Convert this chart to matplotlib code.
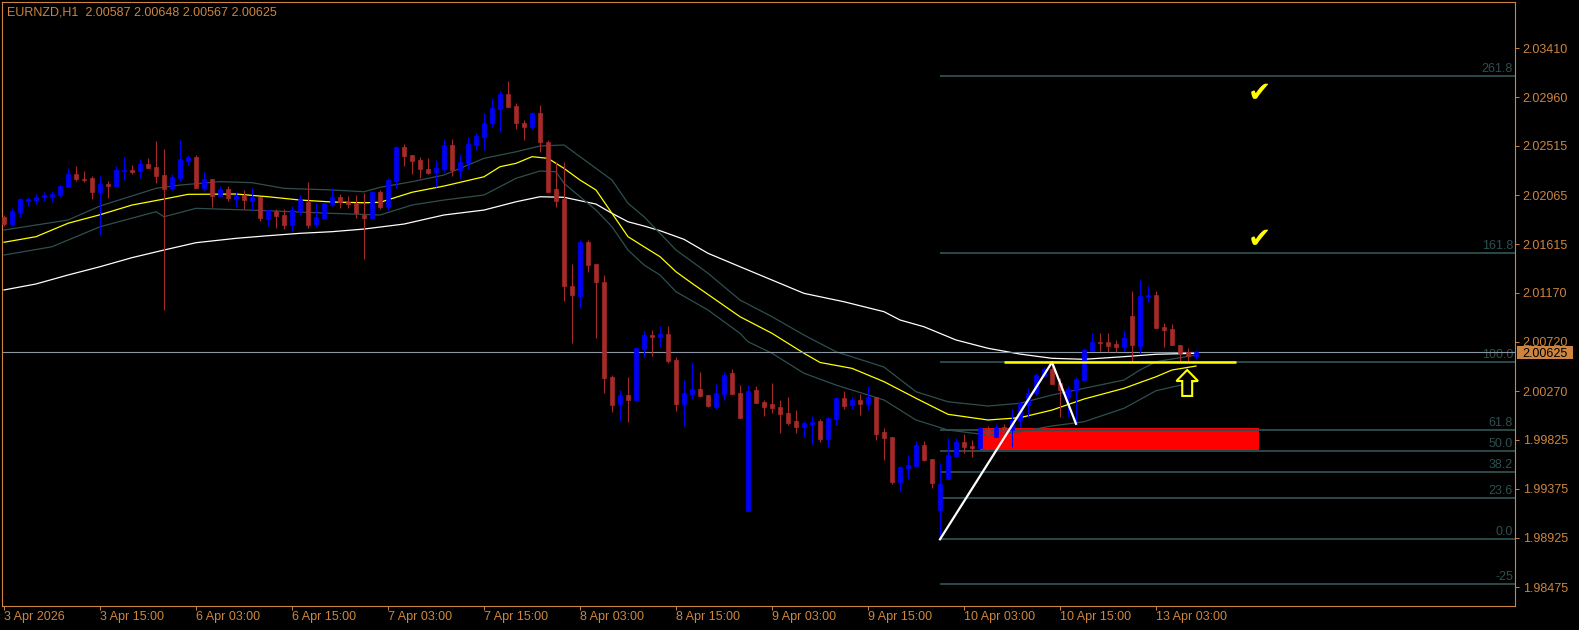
import numpy as np
import matplotlib
matplotlib.use("Agg")
import matplotlib.pyplot as plt
from matplotlib import patches, transforms

plt.rcParams['font.family'] = ['Liberation Sans', 'DejaVu Sans']

### Data: EURNZD H1, first bar 3 Apr 2026 03:00 ###
title = "EURNZD,H1  2.00587 2.00648 2.00567 2.00625"

opens = [
    2.01867, 2.01800, 2.01913, 2.02014, 2.02023, 2.02045, 2.02048, 2.02066, 2.02142, 2.02258,
    2.02212, 2.02222, 2.02096, 2.02167, 2.02151, 2.02288, 2.02295, 2.02286, 2.02350, 2.02320,
    2.02249, 2.02133, 2.02224, 2.02377, 2.02414, 2.02133, 2.02212, 2.02057, 2.02121, 2.02029,
    2.02066, 2.02011, 2.02048, 2.01846, 2.01922, 2.01883, 2.01791, 2.01919, 2.02004, 2.01803,
    2.01858, 2.01986, 2.02048, 2.02004, 2.01995, 2.01883, 2.01858, 2.02096, 2.01956, 2.02197,
    2.02503, 2.02432, 2.02386, 2.02304, 2.02279, 2.02304, 2.02521, 2.02295, 2.02356, 2.02521,
    2.02600, 2.02723, 2.02854, 2.02991, 2.02881, 2.02728, 2.02691, 2.02820, 2.02554, 2.02121,
    2.02026, 2.01232, 2.01143, 2.01638, 2.01434, 2.01272, 2.00396, 2.00154, 2.00234, 2.00188,
    2.00655, 2.00783, 2.00765, 2.00793, 2.00554, 2.00154, 2.00246, 2.00289, 2.00234, 2.00127,
    2.00246, 2.00433, 2.00252, 1.99171, 2.00280, 2.00170, 2.00154, 2.00124, 2.00069, 1.99996,
    1.99941, 1.99971, 1.99996, 1.99831, 2.00014, 2.00209, 2.00142, 2.00188, 2.00154, 2.00216,
    1.99895, 1.99849, 1.99440, 1.99568, 1.99586, 1.99776, 1.99648, 1.99180, 1.99464, 1.99678,
    1.99803, 1.99767, 1.99751, 1.99922, 1.99852, 1.99943, 1.99913, 2.00005, 2.00142, 2.00249,
    2.00411, 2.00469, 2.00341, 2.00213, 2.00280, 2.00371, 2.00640, 2.00719, 2.00719, 2.00698,
    2.00676, 2.00957, 2.00685, 2.01134, 2.01150, 2.00859, 2.00836, 2.00692, 2.00630, 2.00587,
]
highs = [
    2.01883, 2.01949, 2.02039, 2.02050, 2.02075, 2.02096, 2.02102, 2.02155, 2.02313, 2.02331,
    2.02286, 2.02240, 2.02240, 2.02194, 2.02331, 2.02411, 2.02341, 2.02396, 2.02402, 2.02560,
    2.02487, 2.02255, 2.02570, 2.02432, 2.02432, 2.02277, 2.02212, 2.02148, 2.02148, 2.02096,
    2.02112, 2.02130, 2.02050, 2.01928, 2.01938, 2.01938, 2.01965, 2.02069, 2.02188, 2.01993,
    2.01993, 2.02130, 2.02075, 2.02057, 2.02066, 2.02087, 2.02100, 2.02112, 2.02224, 2.02517,
    2.02533, 2.02432, 2.02411, 2.02402, 2.02386, 2.02576, 2.02576, 2.02439, 2.02600, 2.02631,
    2.02820, 2.02957, 2.03018, 2.03110, 2.02906, 2.02753, 2.02829, 2.02890, 2.02570, 2.02371,
    2.02371, 2.01434, 2.01654, 2.01654, 2.01434, 2.01333, 2.00417, 2.00280, 2.00396, 2.00670,
    2.00820, 2.00829, 2.00866, 2.00866, 2.00585, 2.00371, 2.00533, 2.00445, 2.00236, 2.00332,
    2.00447, 2.00472, 2.00325, 2.00325, 2.00316, 2.00188, 2.00347, 2.00188, 2.00216, 2.00096,
    1.99996, 2.00041, 2.00014, 2.00030, 2.00212, 2.00270, 2.00213, 2.00243, 2.00316, 2.00220,
    1.99929, 1.99852, 1.99586, 1.99684, 1.99815, 1.99815, 1.99650, 1.99614, 1.99837, 1.99843,
    1.99877, 1.99822, 1.99943, 1.99953, 1.99968, 1.99968, 2.00103, 2.00182, 2.00295, 2.00433,
    2.00493, 2.00534, 2.00387, 2.00319, 2.00401, 2.00662, 2.00799, 2.00799, 2.00799, 2.00738,
    2.00829, 2.01186, 2.01287, 2.01235, 2.01186, 2.00891, 2.00884, 2.00692, 2.00662, 2.00648,
]
lows = [
    2.01782, 2.01782, 2.01867, 2.01968, 2.01983, 2.02014, 2.02002, 2.02050, 2.02142, 2.02194,
    2.02188, 2.02029, 2.01699, 2.02041, 2.02151, 2.02206, 2.02258, 2.02224, 2.02313, 2.02179,
    2.01012, 2.02112, 2.02194, 2.02341, 2.02133, 2.02112, 2.01956, 2.02050, 2.02014, 2.01953,
    2.01938, 2.01928, 2.01830, 2.01785, 2.01766, 2.01757, 2.01739, 2.01883, 2.01766, 2.01773,
    2.01846, 2.01968, 2.01949, 2.01949, 2.01855, 2.01480, 2.01855, 2.01940, 2.01928, 2.02133,
    2.02331, 2.02255, 2.02224, 2.02255, 2.02142, 2.02279, 2.02240, 2.02224, 2.02301, 2.02478,
    2.02478, 2.02686, 2.02646, 2.02875, 2.02670, 2.02570, 2.02667, 2.02462, 2.02096, 2.01959,
    2.01098, 2.00707, 2.01028, 2.01363, 2.00759, 2.00255, 2.00081, 1.99996, 1.99989, 2.00182,
    2.00585, 2.00591, 2.00676, 2.00530, 2.00087, 1.99953, 2.00197, 2.00218, 2.00127, 2.00106,
    2.00188, 2.00243, 2.00026, 1.99171, 2.00163, 2.00044, 2.00072, 1.99889, 1.99959, 1.99889,
    1.99852, 1.99788, 1.99801, 1.99760, 1.99959, 2.00106, 2.00106, 2.00051, 2.00096, 1.99822,
    1.99638, 1.99416, 1.99357, 1.99462, 1.99583, 1.99629, 1.99382, 1.98912, 1.99460, 1.99669,
    1.99700, 1.99669, 1.99748, 1.99852, 1.99846, 1.99867, 1.99760, 1.99943, 2.00035, 2.00234,
    2.00401, 2.00335, 2.00035, 2.00035, 1.99970, 2.00368, 2.00638, 2.00637, 2.00630, 2.00630,
    2.00640, 2.00539, 2.00616, 2.01088, 2.00850, 2.00676, 2.00692, 2.00548, 2.00548, 2.00567,
]
closes = [
    2.01800, 2.01919, 2.02029, 2.02032, 2.02048, 2.02063, 2.02075, 2.02148, 2.02258, 2.02212,
    2.02203, 2.02096, 2.02167, 2.02151, 2.02295, 2.02295, 2.02277, 2.02350, 2.02313, 2.02240,
    2.02121, 2.02228, 2.02396, 2.02414, 2.02133, 2.02212, 2.02057, 2.02121, 2.02038, 2.02066,
    2.02023, 2.02048, 2.01858, 2.01928, 2.01876, 2.01791, 2.01928, 2.02029, 2.01791, 2.01864,
    2.01993, 2.02048, 2.02002, 2.01983, 2.01898, 2.01858, 2.02096, 2.01959, 2.02203, 2.02506,
    2.02426, 2.02380, 2.02304, 2.02270, 2.02316, 2.02521, 2.02295, 2.02365, 2.02533, 2.02606,
    2.02723, 2.02866, 2.02991, 2.02875, 2.02728, 2.02691, 2.02814, 2.02554, 2.02096, 2.02011,
    2.01232, 2.01150, 2.01638, 2.01425, 2.01272, 2.00392, 2.00142, 2.00234, 2.00188, 2.00667,
    2.00783, 2.00765, 2.00793, 2.00545, 2.00154, 2.00249, 2.00289, 2.00225, 2.00133, 2.00249,
    2.00417, 2.00243, 2.00026, 2.00270, 2.00163, 2.00124, 2.00118, 2.00060, 1.99977, 1.99941,
    1.99977, 1.99989, 1.99831, 2.00026, 2.00209, 2.00136, 2.00188, 2.00154, 2.00216, 1.99879,
    1.99843, 1.99434, 1.99574, 1.99593, 1.99776, 1.99638, 1.99431, 1.99419, 1.99684, 1.99806,
    1.99758, 1.99751, 1.99934, 1.99867, 1.99943, 1.99913, 2.00005, 2.00158, 2.00255, 2.00417,
    2.00469, 2.00335, 2.00280, 2.00289, 2.00378, 2.00646, 2.00719, 2.00707, 2.00683, 2.00674,
    2.00753, 2.00692, 2.01141, 2.01150, 2.00850, 2.00829, 2.00692, 2.00616, 2.00587, 2.00625,
]

# moving averages (bar index, price) read at sample bars
white_idx = [0, 4, 8, 12, 16, 20, 24, 29, 33, 37, 41, 45, 50, 55, 60, 64, 67, 70, 72, 74,
             76, 78, 80, 82, 85, 88, 92, 96, 100, 105, 110, 112, 115, 119, 123, 127, 131, 135, 140, 144, 149]
white_val = [2.01196, 2.01251, 2.01333, 2.01409, 2.01492, 2.01562, 2.01629, 2.01669, 2.01693, 2.01715,
             2.01730, 2.01754, 2.01800, 2.01883, 2.01928, 2.02004, 2.02050, 2.02045, 2.02014, 2.01983,
             2.01898, 2.01821, 2.01782, 2.01739, 2.01660, 2.01532, 2.01409, 2.01287, 2.01165, 2.01088,
             2.00997, 2.00921, 2.00859, 2.00738, 2.00662, 2.00609, 2.00570, 2.00561, 2.00585, 2.00607, 2.00616]

yellow_idx = [0, 4, 8, 12, 16, 20, 23, 29, 33, 37, 41, 45, 47, 51, 55, 60, 62, 64, 66, 68,
              70, 72, 74, 76, 78, 80, 82, 84, 86, 89, 92, 96, 100, 102, 106, 110, 114, 118, 123, 127,
              131, 135, 140, 144, 146, 149]
yellow_val = [2.01633, 2.01684, 2.01807, 2.01885, 2.01974, 2.02029, 2.02072, 2.02075, 2.02050, 2.02020,
              2.02002, 2.01995, 2.01999, 2.02091, 2.02148, 2.02233, 2.02325, 2.02356, 2.02417, 2.02402,
              2.02310, 2.02203, 2.02112, 2.01898, 2.01684, 2.01592, 2.01501, 2.01363, 2.01257, 2.01104,
              2.00951, 2.00799, 2.00616, 2.00532, 2.00478, 2.00356, 2.00204, 2.00057, 2.00005, 2.00026,
              2.00096, 2.00197, 2.00295, 2.00401, 2.00463, 2.00499]

upper_idx = [0, 8, 12, 19, 22, 27, 31, 35, 41, 45, 47, 51, 55, 60, 64, 67, 70, 72, 74, 76,
             78, 80, 82, 84, 88, 92, 96, 100, 104, 110, 114, 118, 123, 127, 131, 135, 140, 142, 144, 149]
upper_val = [2.01745, 2.01837, 2.01965, 2.02127, 2.02157, 2.02188, 2.02179, 2.02127, 2.02112, 2.02096,
             2.02136, 2.02188, 2.02249, 2.02402, 2.02462, 2.02515, 2.02524, 2.02417, 2.02310, 2.02203,
             2.01990, 2.01867, 2.01715, 2.01562, 2.01349, 2.01104, 2.00951, 2.00783, 2.00630, 2.00490,
             2.00264, 2.00172, 2.00133, 2.00158, 2.00234, 2.00295, 2.00371, 2.00463, 2.00539, 2.00600]

lower_idx = [0, 6, 12, 19, 20, 24, 33, 41, 47, 51, 55, 60, 62, 64, 67, 69, 70, 72, 74, 76,
             78, 80, 82, 84, 88, 92, 93, 96, 100, 104, 110, 114, 118, 123, 127, 131, 135, 140, 144, 149]
lower_val = [2.01516, 2.01592, 2.01775, 2.01913, 2.01867, 2.01944, 2.01922, 2.01898, 2.01883, 2.01974,
             2.02020, 2.02066, 2.02142, 2.02219, 2.02286, 2.02279, 2.02173, 2.02050, 2.01928, 2.01775,
             2.01562, 2.01425, 2.01333, 2.01180, 2.01012, 2.00799, 2.00722, 2.00616, 2.00433, 2.00325,
             2.00188, 2.00005, 1.99913, 1.99867, 1.99898, 1.99950, 1.99989, 2.00112, 2.00273, 2.00356]

time_ticks = [0, 12, 24, 36, 48, 60, 72, 84, 96, 108, 120, 132, 144]
time_labels = ["3 Apr 2026", "3 Apr 15:00", "6 Apr 03:00", "6 Apr 15:00", "7 Apr 03:00",
               "7 Apr 15:00", "8 Apr 03:00", "8 Apr 15:00", "9 Apr 03:00", "9 Apr 15:00",
               "10 Apr 03:00", "10 Apr 15:00", "13 Apr 03:00"]
price_ticks = [2.03410, 2.02960, 2.02515, 2.02065, 2.01615, 2.01170,
               2.00720, 2.00270, 1.99825, 1.99375, 1.98925, 1.98475]

# fibonacci from swing low bar to swing high bar
fib_low_bar = 117
fib_high_bar = 131
fib_levels = [261.8, 161.8, 100.0, 61.8, 50.0, 38.2, 23.6, 0.0, -25.0]
fib_texts = ["261.8", "161.8", "100.0", "61.8", "50.0", "38.2", "23.6", "0.0", "-25"]

# user objects
zone_start, zone_end = 122, 156.9
zone_low, zone_high = 1.99730, 1.99930
zigzag_bars = [117, 131, 134]
hline_start, hline_end = 125, 154
check_bar = 156.9
check_prices = [2.03003, 2.01666]
arrow_bar = 147.9
arrow_tip, arrow_neck, arrow_base = 2.00463, 2.00362, 2.00225

### Styles ###
BG = "black"
FG = "#CD853F"
BULL = "#0000FF"
BEAR = "#A52A2A"
FIB_COL = "#2F4F4F"
ENV_COL = "#2F4F4F"
PRICE_LINE = "#8A96A2"

W, H = 1579, 630
fig = plt.figure(figsize=(W / 100, H / 100), dpi=100, facecolor=BG)
ax = fig.add_axes([2 / W, 24 / H, 1513 / W, 604 / H], facecolor=BG)
ax.set_xlim(-0.25, 188.875)
ax.set_ylim(1.98301, 2.03834)

# background zone
ax.add_patch(patches.Rectangle((zone_start, zone_low), zone_end - zone_start, zone_high - zone_low,
                               facecolor="#FF0000", edgecolor="none", zorder=0.5))

# fibo levels
fib_lo = lows[fib_low_bar]
fib_hi = highs[fib_high_bar]
fib_prices = [fib_lo + lv / 100.0 * (fib_hi - fib_lo) for lv in fib_levels]
ax.hlines(fib_prices, fib_low_bar, 188.875, color=FIB_COL, lw=1.3, zorder=1)
lab_tr = transforms.offset_copy(transforms.blended_transform_factory(ax.transAxes, ax.transData),
                                fig=fig, x=-2, y=1, units="dots")
for p, t in zip(fib_prices, fib_texts):
    ax.text(1.0, p, t, transform=lab_tr, ha="right", va="bottom", color=FIB_COL, fontsize=9, zorder=1)

# moving averages
ax.plot(white_idx, white_val, color="white", lw=0.9, zorder=2)
ax.plot(upper_idx, upper_val, color=ENV_COL, lw=0.9, zorder=2)
ax.plot(lower_idx, lower_val, color=ENV_COL, lw=0.9, zorder=2)
ax.plot(yellow_idx, yellow_val, color="#FFFF00", lw=0.9, zorder=2)

# current price line
ax.axhline(closes[-1], color=PRICE_LINE, lw=0.8, zorder=2.5)

# candles
o, hi, lo, c = (np.array(a) for a in (opens, highs, lows, closes))
x = np.arange(len(o))
cols = np.where(c >= o, BULL, BEAR)
ax.vlines(x, lo, hi, colors=cols, lw=0.8, zorder=3)
ax.bar(x, np.abs(c - o), width=0.55, bottom=np.minimum(o, c), color=cols,
       edgecolor=cols, linewidth=0.5, zorder=4)

# drawn objects
ax.plot(zigzag_bars, [lows[zigzag_bars[0]], highs[zigzag_bars[1]], lows[zigzag_bars[2]]],
        color="white", lw=1.6, zorder=5)
ax.hlines(fib_hi, hline_start, hline_end, color="#FFFF00", lw=1.8, zorder=5)
for cp in check_prices:
    ax.text(check_bar, cp, "\u2714", color="#FFFF00", fontsize=20, ha="center", va="center",
            family=["DejaVu Sans"], zorder=6)
hw, sw = 1.35, 0.62
arrow = [(arrow_bar, arrow_tip), (arrow_bar + hw, arrow_neck), (arrow_bar + sw, arrow_neck),
         (arrow_bar + sw, arrow_base), (arrow_bar - sw, arrow_base), (arrow_bar - sw, arrow_neck),
         (arrow_bar - hw, arrow_neck)]
ax.add_patch(patches.Polygon(arrow, closed=True, facecolor=BG, edgecolor="#FFFF00", lw=1.5, zorder=6))

# axes styling
for s in ax.spines.values():
    s.set_color(FG)
    s.set_linewidth(0.8)
ax.yaxis.tick_right()
ax.set_yticks(price_ticks)
ax.set_yticklabels([f"{v:.5f}" for v in price_ticks])
ax.tick_params(axis="y", colors=FG, length=3, width=0.7, pad=2.5, labelsize=9)
ax.set_xticks(time_ticks)
ax.set_xticklabels(time_labels, ha="left")
ax.tick_params(axis="x", colors=FG, length=3, width=0.7, pad=0.5, labelsize=9)

# current price tag on the scale
tag_tr = transforms.blended_transform_factory(ax.transAxes, ax.transData)
px = 0.0000916
ax.add_patch(patches.Rectangle((1.0011, closes[-1] - 6.3 * px), 0.037, 12.7 * px, transform=tag_tr,
                               facecolor=FG, edgecolor="none", clip_on=False, zorder=10))
ax.text(1.0, closes[-1], f"{closes[-1]:.5f}",
        transform=transforms.offset_copy(tag_tr, fig=fig, x=7.5, y=0, units="dots"),
        ha="left", va="center_baseline", color="black", fontsize=9, clip_on=False, zorder=11)

fig.text(7 / W, 1 - 12.8 / H, title, color=FG, fontsize=9, ha="left", va="center")

fig.savefig("out.png", dpi=100, facecolor=BG)
